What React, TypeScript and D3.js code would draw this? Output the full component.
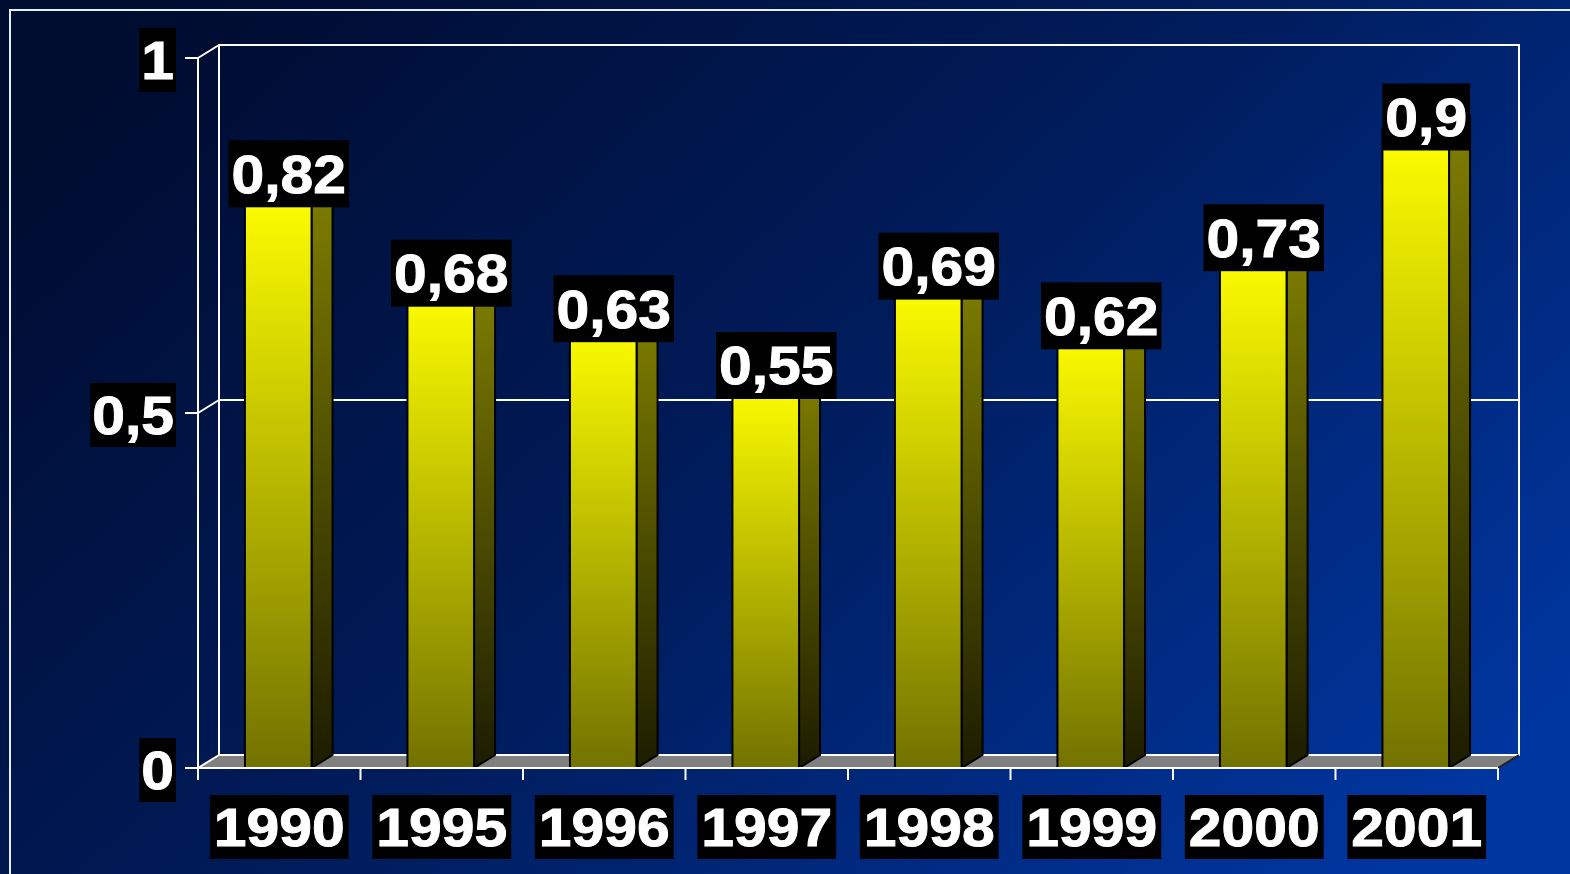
import React from "react";
import * as d3 from "d3";

const years = ["1990", "1995", "1996", "1997", "1998", "1999", "2000", "2001"];
const values = [0.82, 0.68, 0.63, 0.55, 0.69, 0.62, 0.73, 0.9];
const yTicks = [0, 0.5, 1];

const W = 1570;
const H = 874;
const left = 198;
const right = 1498;
const bottom = 768;
const top = 58;
const dx = 21;
const dy = 13;
const FONT = "'Liberation Sans', Arial, sans-serif";
const FS = 53;
const STRETCH = 1.11;

const fmt = (v: number) => String(v).replace(".", ",");
const charW = (s: string) =>
  s.split("").reduce((a, c) => a + (c === "," ? 0.278 : 0.556), 0) * FS * STRETCH;

function Label({ cx, cy, text, h, pad }: { cx: number; cy: number; text: string; h: number; pad: number }) {
  const tw = charW(text);
  const bw = tw + pad * 2;
  return (
    <g>
      <rect x={cx - bw / 2} y={cy - h / 2} width={bw} height={h} fill="#000" />
      <text
        transform={`translate(${cx},${cy + 0.716 * FS / 2}) scale(${STRETCH},1)`}
        textAnchor="middle"
        fontFamily={FONT}
        fontWeight="bold"
        fontSize={FS}
        fill="#fff"
        stroke="#fff"
        strokeWidth={0.9}
      >
        {text}
      </text>
    </g>
  );
}

export default function App() {
  const x = d3.scaleBand<string>().domain(years).range([left, right]).padding(0);
  const y = d3.scaleLinear().domain([0, 1]).range([bottom, top]);
  const step = x.step();
  const bw = step * 0.41;

  return (
    <svg
      width={W}
      height={H}
      style={{ position: "fixed", left: 0, top: 0, display: "block" }}
    >
      <defs>
        <linearGradient id="bg" x1="0" y1="0.2" x2="1" y2="0.8">
          <stop offset="0" stopColor="#000c30" />
          <stop offset="0.5" stopColor="#001c5c" />
          <stop offset="1" stopColor="#0036a0" />
        </linearGradient>
        <linearGradient id="front" x1="0" y1="0" x2="0" y2="1">
          <stop offset="0" stopColor="#ffff00" />
          <stop offset="1" stopColor="#727200" />
        </linearGradient>
        <linearGradient id="side" x1="0" y1="0" x2="0" y2="1">
          <stop offset="0" stopColor="#808000" />
          <stop offset="1" stopColor="#1c1c00" />
        </linearGradient>
      </defs>
      <rect x={0} y={0} width={W} height={H} fill="url(#bg)" />
      {/* outer frame */}
      <path d={`M10,${H} L10,10 L${W},10`} fill="none" stroke="#e8ecff" strokeWidth={2} />

      {/* back wall */}
      <rect
        x={left + dx}
        y={top - dy}
        width={right - left}
        height={bottom - top}
        fill="none"
        stroke="#fff"
        strokeWidth={2}
      />
      {/* gridline 0.5 */}
      {yTicks.filter((t) => t > 0 && t < 1).map((t) => (
        <line key={t} x1={left + dx} x2={right + dx} y1={y(t) - dy} y2={y(t) - dy} stroke="#fff" strokeWidth={2} />
      ))}
      {/* floor */}
      <path
        d={`M${left},${bottom} L${right},${bottom} L${right + dx},${bottom - dy} L${left + dx},${bottom - dy} Z`}
        fill="#808080"
      />
      <line x1={left + dx} x2={right + dx} y1={bottom - dy} y2={bottom - dy} stroke="#fff" strokeWidth={2} />
      <line x1={right} y1={bottom} x2={right + dx} y2={bottom - dy} stroke="#222" strokeWidth={2} />

      {/* bars */}
      {years.map((yr, i) => {
        const cx = (x(yr) as number) + step / 2;
        const x0 = cx - bw / 2 - 1;
        const x1 = x0 + bw;
        const yt = y(values[i]);
        return (
          <g key={yr} stroke="#000" strokeWidth={2} strokeLinejoin="round">
            <path
              d={`M${x1},${yt} L${x1 + dx},${yt - dy} L${x1 + dx},${bottom - dy} L${x1},${bottom} Z`}
              fill="url(#side)"
            />
            <path
              d={`M${x0},${yt} L${x0 + dx},${yt - dy} L${x1 + dx},${yt - dy} L${x1},${yt} Z`}
              fill="#ffff40"
            />
            <rect x={x0} y={yt} width={bw} height={bottom - yt} fill="url(#front)" />
          </g>
        );
      })}

      {/* front axes */}
      <line x1={left} x2={left} y1={top} y2={bottom + 12} stroke="#fff" strokeWidth={2} />
      <line x1={left - 13} x2={right} y1={bottom} y2={bottom} stroke="#fff" strokeWidth={2} />
      {yTicks.map((t) => (
        <g key={t}>
          <line x1={left - 13} x2={left} y1={y(t)} y2={y(t)} stroke="#fff" strokeWidth={2} />
          <line x1={left} x2={left + dx} y1={y(t)} y2={y(t) - dy} stroke="#fff" strokeWidth={2} />
        </g>
      ))}
      {d3.range(years.length + 1).map((i) => (
        <line
          key={i}
          x1={left + i * step}
          x2={left + i * step}
          y1={bottom}
          y2={bottom + 12}
          stroke="#fff"
          strokeWidth={2}
        />
      ))}

      {/* value labels */}
      {years.map((yr, i) => {
        const cx = (x(yr) as number) + step / 2 + dx / 2 - 1;
        return <Label key={yr} cx={cx} cy={y(values[i]) - dy + 1} text={fmt(values[i])} h={67} pad={3} />;
      })}

      {/* year labels */}
      {years.map((yr) => (
        <Label key={yr} cx={(x(yr) as number) + step / 2} cy={827} text={yr} h={64} pad={4} />
      ))}

      {/* y tick labels */}
      {yTicks.map((t) => {
        const s = fmt(t);
        const w = charW(s) + 4;
        return <Label key={t} cx={176 - w / 2} cy={y(t) + 2} text={s} h={64} pad={2} />;
      })}
    </svg>
  );
}
